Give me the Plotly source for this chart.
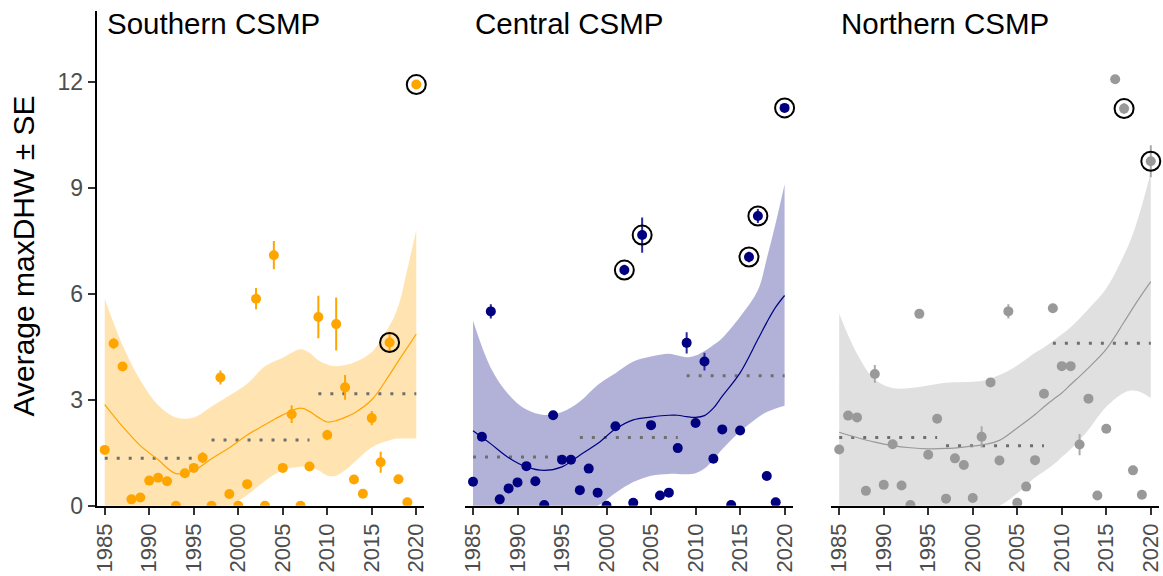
import plotly.graph_objects as go

# ---------------- data ----------------
years = list(range(1985, 2021))

south_vals = [1.58, 4.59, 3.94, 0.18, 0.23, 0.71, 0.79, 0.69, 0.0, 0.92, 1.07, 1.36,
              0.0, 3.63, 0.33, 0.0, 0.61, 5.86, 0.0, 7.09, 1.07, 2.59, 0.0, 1.11,
              5.34, 2.0, 5.14, 3.35, 0.74, 0.34, 2.48, 1.23, 4.62, 0.75, 0.1, 11.92]
south_se = [0.05, 0.15, 0.1, 0.03, 0.03, 0.05, 0.05, 0.05, 0.0, 0.05, 0.08, 0.15,
            0.0, 0.2, 0.05, 0.0, 0.05, 0.3, 0.0, 0.4, 0.05, 0.25, 0.0, 0.05,
            0.6, 0.15, 0.75, 0.35, 0.05, 0.05, 0.2, 0.3, 0.25, 0.05, 0.03, 0.1]

central_vals = [0.68, 1.95, 5.5, 0.18, 0.49, 0.66, 1.12, 0.69, 0.02, 2.56, 1.3, 1.3,
                0.44, 1.05, 0.37, 0.0, 2.25, 6.67, 0.08, 7.66, 2.28, 0.29, 0.37, 1.63,
                4.61, 2.34, 4.08, 1.33, 2.16, 0.02, 2.13, 7.04, 8.2, 0.84, 0.1, 11.26]
central_se = [0.05, 0.1, 0.2, 0.03, 0.05, 0.05, 0.05, 0.05, 0.0, 0.05, 0.05, 0.05,
              0.05, 0.05, 0.03, 0.0, 0.05, 0.15, 0.02, 0.5, 0.05, 0.03, 0.03, 0.05,
              0.3, 0.05, 0.25, 0.05, 0.05, 0.0, 0.05, 0.15, 0.2, 0.03, 0.02, 0.1]

north_vals = [1.59, 2.55, 2.5, 0.42, 3.73, 0.59, 1.74, 0.57, 0.02, 5.43, 1.44, 2.46,
              0.2, 1.34, 1.15, 0.22, 1.95, 3.49, 1.28, 5.5, 0.08, 0.54, 1.29, 3.17,
              5.59, 3.95, 3.95, 1.73, 3.03, 0.29, 2.18, 12.07, 11.24, 1.0, 0.31, 9.75]
north_se = [0.05, 0.05, 0.05, 0.03, 0.25, 0.05, 0.05, 0.05, 0.0, 0.05, 0.05, 0.05,
            0.02, 0.05, 0.05, 0.02, 0.3, 0.05, 0.05, 0.2, 0.02, 0.05, 0.05, 0.05,
            0.05, 0.05, 0.05, 0.3, 0.05, 0.03, 0.05, 0.1, 0.15, 0.05, 0.05, 0.45]

south_circled = [2017, 2020]
central_circled = [2002, 2004, 2016, 2017, 2020]
north_circled = [2017, 2020]

# loess smooth
smooth_years = [1985, 1987, 1989, 1991, 1993, 1995, 1997, 1999, 2001, 2003, 2005, 2007,
                2008, 2009, 2010, 2011, 2012, 2013, 2015, 2017, 2018, 2019, 2020]
south_fit = [2.86, 2.24, 1.7, 1.3, 0.91, 1.0, 1.33, 1.64, 2.0, 2.29, 2.57, 2.76,
             2.67, 2.5, 2.37, 2.41, 2.5, 2.62, 3.0, 3.71, 4.1, 4.48, 4.86]
south_hi = [5.86, 4.55, 3.55, 2.85, 2.5, 2.5, 2.81, 3.12, 3.45, 3.95, 4.19, 4.43,
            4.33, 4.12, 4.0, 3.95, 3.98, 4.05, 4.35, 5.1, 5.67, 6.7, 7.81]
south_lo = [-0.14, -0.05, -0.15, -0.3, -0.7, -0.55, -0.2, -0.02, 0.3, 0.7, 1.0, 1.1,
            1.1, 1.0, 0.85, 0.85, 1.0, 1.22, 1.65, 1.85, 1.9, 1.9, 1.9]

central_fit = [2.12, 1.75, 1.36, 1.1, 1.0, 1.1, 1.43, 1.76, 2.17, 2.43, 2.51, 2.56,
               2.56, 2.52, 2.5, 2.55, 2.76, 3.1, 3.76, 4.71, 5.19, 5.62, 5.95]
central_hi = [5.24, 3.9, 3.15, 2.72, 2.57, 2.65, 2.95, 3.42, 3.75, 4.08, 4.22, 4.3,
              4.25, 4.2, 4.25, 4.38, 4.55, 4.75, 5.35, 6.1, 7.0, 8.0, 9.1]
central_lo = [-1.0, -0.4, -0.45, -0.5, -0.6, -0.45, -0.1, 0.0, 0.36, 0.67, 0.85, 0.9,
              0.9, 0.89, 0.92, 1.05, 1.3, 1.6, 2.1, 2.5, 2.65, 2.75, 2.83]

north_fit = [2.08, 1.93, 1.8, 1.7, 1.64, 1.61, 1.62, 1.66, 1.72, 1.85, 2.2, 2.58,
             2.8, 3.0, 3.19, 3.43, 3.66, 3.9, 4.43, 5.2, 5.6, 5.98, 6.34]
north_hi = [5.43, 4.3, 3.57, 3.33, 3.33, 3.4, 3.48, 3.5, 3.53, 3.7, 3.97, 4.33,
            4.48, 4.66, 4.85, 5.05, 5.3, 5.57, 6.15, 7.1, 7.7, 8.5, 9.43]
north_lo = [-1.27, -0.45, -0.05, -0.05, -0.1, -0.15, -0.2, -0.15, -0.1, 0.0, 0.35, 0.8,
            0.97, 1.15, 1.38, 1.6, 1.86, 2.15, 2.8, 3.2, 3.26, 3.2, 3.05]

# period means (dotted segments)
period_starts = [1985, 1997, 2009]
period_ends = [1996, 2008, 2020]
south_means = [1.34, 1.86, 3.17]
central_means = [1.38, 1.93, 3.68]
north_means = [1.93, 1.70, 4.60]

titles = ["Southern CSMP", "Central CSMP", "Northern CSMP"]
x_ticks = [1985, 1990, 1995, 2000, 2005, 2010, 2015, 2020]
y_ticks = [0, 3, 6, 9, 12]

# ---------------- styling ----------------
FONT = "Liberation Sans, Arial, Helvetica, sans-serif"
W, H = 1163, 576
panels_px = [(96.7, 424.3), (465.0, 792.6), (831.2, 1158.8)]
y_dom = [(576 - 505.7) / 576, (576 - 11.1) / 576]

regions = [
    dict(vals=south_vals, se=south_se, circ=south_circled, fit=south_fit, hi=south_hi,
         lo=south_lo, means=south_means, col="#FFA500", fill="rgba(255,165,0,0.3)",
         ecol="#FFA500"),
    dict(vals=central_vals, se=central_se, circ=central_circled, fit=central_fit,
         hi=central_hi, lo=central_lo, means=central_means, col="#000080",
         fill="rgba(0,0,128,0.3)", ecol="#2a2aa0"),
    dict(vals=north_vals, se=north_se, circ=north_circled, fit=north_fit, hi=north_hi,
         lo=north_lo, means=north_means, col="#999999", fill="rgba(153,153,153,0.3)",
         ecol="#aaaaaa"),
]

fig = go.Figure()

for i, r in enumerate(regions):
    xa = "x" if i == 0 else f"x{i+1}"
    ya = "y" if i == 0 else f"y{i+1}"
    # ribbon
    fig.add_trace(go.Scatter(x=smooth_years, y=r["hi"], mode="lines",
                             line=dict(width=0, shape="spline", smoothing=1.0),
                             xaxis=xa, yaxis=ya, hoverinfo="skip"))
    fig.add_trace(go.Scatter(x=smooth_years, y=r["lo"], mode="lines",
                             line=dict(width=0, shape="spline", smoothing=1.0),
                             fill="tonexty", fillcolor=r["fill"],
                             xaxis=xa, yaxis=ya, hoverinfo="skip"))
    # period means
    for s, e, m in zip(period_starts, period_ends, r["means"]):
        fig.add_trace(go.Scatter(x=[s, e], y=[m, m], mode="lines",
                                 line=dict(color="#6e6e6e", width=3, dash="3px,9px"),
                                 xaxis=xa, yaxis=ya, hoverinfo="skip"))
    # smooth
    fig.add_trace(go.Scatter(x=smooth_years, y=r["fit"], mode="lines",
                             line=dict(color=r["col"], width=1.2, shape="spline",
                                       smoothing=1.0),
                             xaxis=xa, yaxis=ya, hoverinfo="skip"))
    # points with SE
    fig.add_trace(go.Scatter(x=years, y=r["vals"], mode="markers",
                             marker=dict(color=r["col"], size=10),
                             error_y=dict(type="data", array=r["se"], visible=True,
                                          thickness=2, width=0, color=r["ecol"]),
                             xaxis=xa, yaxis=ya))
    # rings
    cx = [y for y in r["circ"]]
    cy = [r["vals"][years.index(y)] for y in r["circ"]]
    fig.add_trace(go.Scatter(x=cx, y=cy, mode="markers",
                             marker=dict(symbol="circle-open", size=19,
                                         color="black", line=dict(width=2)),
                             cliponaxis=False, xaxis=xa, yaxis=ya))

layout = dict(
    width=W, height=H, margin=dict(l=0, r=0, t=0, b=0),
    paper_bgcolor="white", plot_bgcolor="white", showlegend=False,
    font=dict(family=FONT),
)
for i, (a, b) in enumerate(panels_px):
    xkey = "xaxis" if i == 0 else f"xaxis{i+1}"
    ykey = "yaxis" if i == 0 else f"yaxis{i+1}"
    layout[xkey] = dict(
        domain=[a / W, b / W], range=[1984.1, 2020.9], anchor="y" if i == 0 else f"y{i+1}",
        tickmode="array", tickvals=x_ticks, ticktext=[str(t) for t in x_ticks],
        tickangle=-90, ticks="outside", ticklen=7, tickwidth=2, tickcolor="#333333",
        showline=True, linecolor="black", linewidth=2, showgrid=False, zeroline=False,
        tickfont=dict(size=22, color="#4d4d4d", family=FONT), automargin=False,
        ticklabeloverflow="allow",
    )
    yd = dict(domain=y_dom, range=[0, 14], anchor="x" if i == 0 else f"x{i+1}",
              showgrid=False, zeroline=False, automargin=False)
    if i == 0:
        yd.update(tickmode="array", tickvals=y_ticks, ticktext=[str(t) for t in y_ticks],
                  ticks="outside", ticklen=7, tickwidth=2, tickcolor="#333333",
                  showline=True, linecolor="black", linewidth=2,
                  tickfont=dict(size=23, color="#4d4d4d", family=FONT),
                  ticklabeloverflow="allow")
    else:
        yd.update(showline=False, showticklabels=False, ticks="")
    layout[ykey] = yd

annotations = []
for i, t in enumerate(titles):
    annotations.append(dict(text=t, xref="x" if i == 0 else f"x{i+1}", yref="paper",
                            x=1985, y=1 - 23 / H, xanchor="left", yanchor="middle",
                            showarrow=False, font=dict(size=29.5, color="black", family=FONT)))
annotations.append(dict(text="Average maxDHW \u00b1 SE", xref="paper", yref="paper",
                        x=23 / W, y=(H - 256.5) / H, textangle=-90, xanchor="center",
                        yanchor="middle", showarrow=False,
                        font=dict(size=30, color="black", family=FONT)))
layout["annotations"] = annotations
fig.update_layout(**layout)

fig.write_html("out.html")
